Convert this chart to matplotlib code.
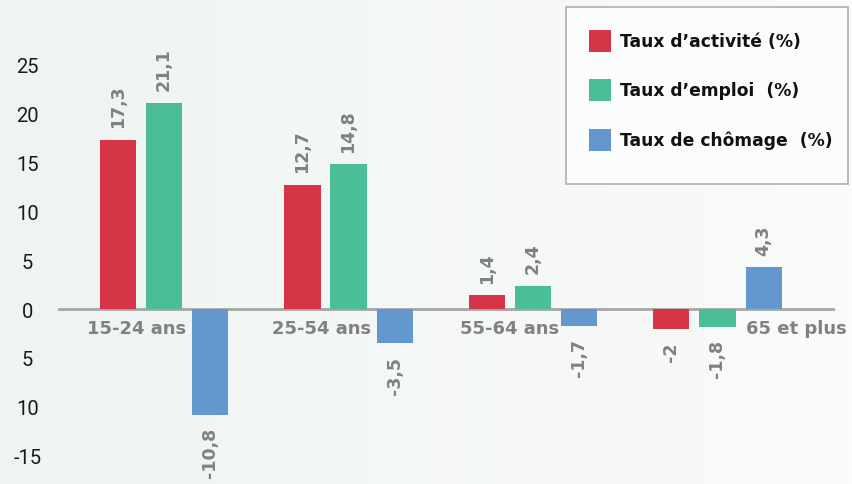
import os
import numpy as np
import matplotlib
matplotlib.use('Agg')
import matplotlib.pyplot as plt
from matplotlib.patches import Rectangle
from matplotlib.colors import LinearSegmentedColormap
from matplotlib import font_manager as fm

categories = ['15-24 ans', '25-54 ans', '55-64 ans', '65 et plus']
activite = [17.3, 12.7, 1.4, -2]
emploi = [21.1, 14.8, 2.4, -1.8]
chomage = [-10.8, -3.5, -1.7, 4.3]
series_names = ['Taux d\u2019activit\u00e9 (%)', 'Taux d\u2019emploi  (%)', 'Taux de ch\u00f4mage  (%)']
colors = ['#d53546', '#4bbe96', '#6398cf']
ytick_vals = [25, 20, 15, 10, 5, 0, -5, -10, -15]
ytick_labels = ['25', '20', '15', '10', '5', '0', '5', '10', '-15']

# regular face for the ticks: Roboto if present
fam = 'DejaVu Sans'
for f in ['Roboto', 'Open Sans', 'Lato']:
    try:
        fm.findfont(fm.FontProperties(family=f), fallback_to_default=False)
        fam = f
        break
    except Exception:
        pass
plt.rcParams['font.family'] = [fam, 'DejaVu Sans']
bold_fam = ['DejaVu Sans']

W, H = 852, 485
fig = plt.figure(figsize=(W / 100, H / 100), dpi=100)

# background gradient
bg = fig.add_axes([0, 0, 1, 1], zorder=-10)
grad = np.linspace(0, 1, 256).reshape(1, -1)
cmap = LinearSegmentedColormap.from_list('bg', ['#eef4f2', '#fafbfb'])
bg.imshow(grad, aspect='auto', cmap=cmap, extent=[0, 1, 0, 1])
bg.axis('off')

ax = fig.add_axes([58 / W, 0, (835 - 58) / W, 1])
ax.patch.set_alpha(0)
ax.set_xlim(-0.575, 3.637)
ax.set_ylim(-17.91, 31.73)

x = np.arange(len(categories))
width = 0.196
offsets = [-0.25, 0, 0.25]
lbl_color = '#818181'
for vals, off, col in zip([activite, emploi, chomage], offsets, colors):
    bars = ax.bar(x + off, vals, width=width, color=col, zorder=3)
    for b, v in zip(bars, vals):
        txt = ('%g' % v).replace('.', ',')
        up = v >= 0
        ax.annotate(txt, (b.get_x() + b.get_width() / 2, v), xytext=(0, 9 if up else -9),
                    textcoords='offset points', rotation=90, ha='center',
                    va='bottom' if up else 'top', family=bold_fam,
                    fontsize=12.5, fontweight='bold', color=lbl_color)

ax.axhline(0, color='#a6a6a6', lw=2, zorder=2)

# category labels
cat_x = [0.12, 1.12, 2.14, 3.70]
for cx, c in zip(cat_x, categories):
    ax.text(cx, -1.9, c, ha='right', va='center', fontsize=13, fontweight='bold',
            family=bold_fam, color=lbl_color)

ax.set_yticks(ytick_vals)
ax.set_yticklabels(ytick_labels)
ax.tick_params(axis='y', length=0, pad=22, labelsize=14.5, labelcolor='#1a1a1a')
for t in ax.get_yticklabels():
    t.set_horizontalalignment('center')
ax.set_xticks([])
for s in ax.spines.values():
    s.set_visible(False)

# legend box
fig.patches.append(Rectangle((566 / W, 1 - 185 / H), 282 / W, 177 / H, transform=fig.transFigure,
                             facecolor='#fbfcfc', edgecolor='#b4b4b4', lw=1.3, zorder=5))
ys = [42, 91, 141]
for yy, name, col in zip(ys, series_names, colors):
    fig.patches.append(Rectangle((589 / W, 1 - (yy + 11) / H), 22 / W, 22 / H, transform=fig.transFigure,
                                 facecolor=col, edgecolor='none', zorder=6))
    fig.text(620 / W, 1 - yy / H, name, ha='left', va='center', fontsize=12.3, fontweight='bold',
             family=bold_fam, color='#111111', zorder=7)

fig.savefig('out.png', dpi=100)
